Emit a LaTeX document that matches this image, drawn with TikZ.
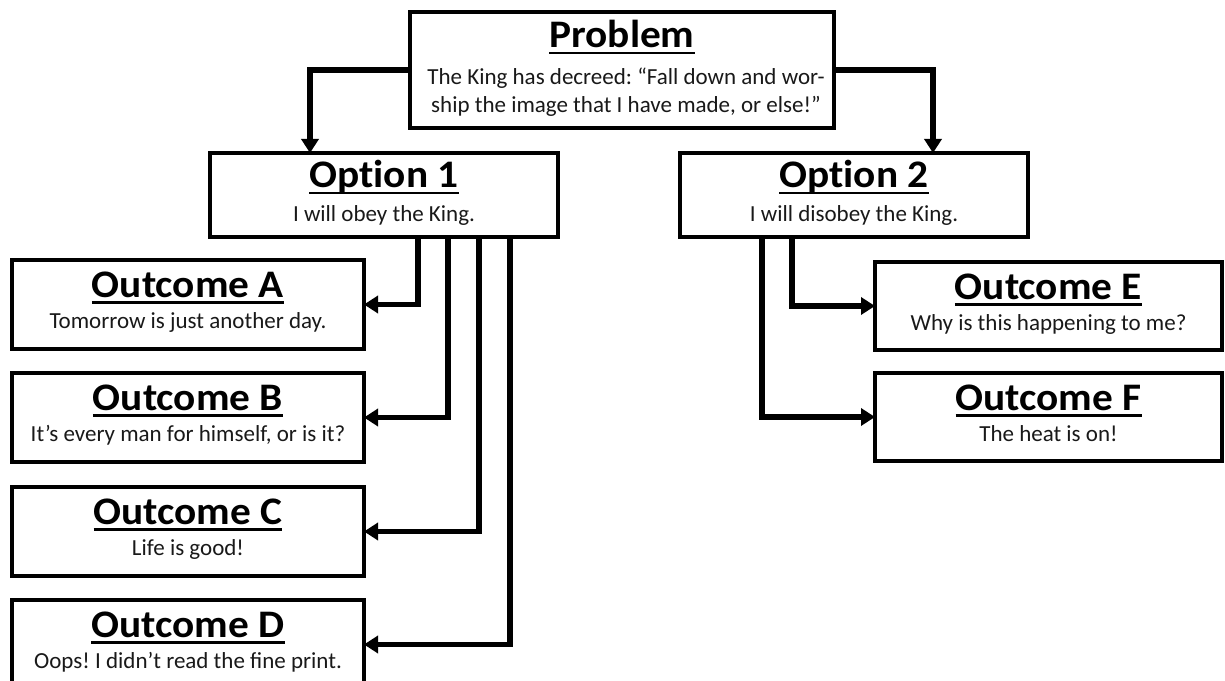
\documentclass[tikz,border=0pt]{standalone}
\usepackage{fontspec}
\setmainfont{Carlito}
\newfontfamily\titlefam[FakeStretch=1.06,Ligatures=NoCommon]{Carlito}
\usetikzlibrary{arrows.meta}
\frenchspacing
\newcommand\mytitle[1]{{\titlefam\bfseries\fontsize{39bp}{43bp}\selectfont\setbox0\hbox{#1}\rlap{\rule[-6.5bp]{\wd0}{2.8bp}}\box0}}
\tikzset{
  box/.style={draw=black, line width=3.6bp, fill=white, rectangle, inner sep=0pt, outer sep=0pt},
  ttlnode/.style={anchor=base, inner sep=0pt, text=black},
  bodynode/.style={anchor=base, inner sep=0pt, font=\fontsize{23bp}{28bp}\selectfont, text=black!90},
  conn/.style={line width=5.5bp, -{Triangle[length=14bp,width=17bp]}}
}
\begin{document}
\begin{tikzpicture}[x=1bp,y=-1bp]
\useasboundingbox (0,0) rectangle (1225,681);
\clip (0,0) rectangle (1225,681);
\fill[white] (0,0) rectangle (1225,681);

% boxes
\node[box, minimum width=424bp, minimum height=116bp] (P) at (622,70) {};
\node[box, minimum width=348bp, minimum height=84bp] (O1) at (384,195) {};
\node[box, minimum width=348bp, minimum height=84bp] (O2) at (854,195) {};
\node[box, minimum width=352bp, minimum height=89bp] (A) at (188,304.5) {};
\node[box, minimum width=352bp, minimum height=89bp] (B) at (188,417.5) {};
\node[box, minimum width=352bp, minimum height=89bp] (C) at (188,531.5) {};
\node[box, minimum width=352bp, minimum height=89bp] (D) at (188,644.5) {};
\node[box, minimum width=347bp, minimum height=88bp] (E) at (1048.5,306) {};
\node[box, minimum width=347bp, minimum height=88bp] (F) at (1048.5,417) {};

% texts
\node[ttlnode] (Pt) at ([yshift=-36bp]P.north) {\mytitle{Problem}};
\node[bodynode] (Pb1) at ([xshift=4bp,yshift=-73bp]P.north) {The King has decreed: “Fall down and wor-};
\node[bodynode] (Pb2) at ([xshift=4bp,yshift=-101bp]P.north) {ship the image that I have made, or else!”};
\node[ttlnode] (O1t) at ([yshift=-35bp]O1.north) {\mytitle{Option 1}};
\node[bodynode] (O1b) at ([yshift=-68bp]O1.north) {I will obey the King.};
\node[ttlnode] (O2t) at ([yshift=-35bp]O2.north) {\mytitle{Option 2}};
\node[bodynode] (O2b) at ([yshift=-68bp]O2.north) {I will disobey the King.};
\node[ttlnode] (At) at ([yshift=-37bp]A.north) {\mytitle{Outcome A}};
\node[bodynode] (Ab) at ([yshift=-68bp]A.north) {Tomorrow is just another day.};
\node[ttlnode] (Bt) at ([yshift=-37bp]B.north) {\mytitle{Outcome B}};
\node[bodynode] (Bb) at ([yshift=-68bp]B.north) {It’s every man for himself, or is it?};
\node[ttlnode] (Ct) at ([yshift=-37bp]C.north) {\mytitle{Outcome C}};
\node[bodynode] (Cb) at ([yshift=-68bp]C.north) {Life is good!};
\node[ttlnode] (Dt) at ([yshift=-37bp]D.north) {\mytitle{Outcome D}};
\node[bodynode] (Db) at ([yshift=-68bp]D.north) {Oops! I didn’t read the fine print.};
\node[ttlnode] (Et) at ([yshift=-37bp]E.north) {\mytitle{Outcome E}};
\node[bodynode] (Eb) at ([yshift=-68bp]E.north) {Why is this happening to me?};
\node[ttlnode] (Ft) at ([yshift=-37bp]F.north) {\mytitle{Outcome F}};
\node[bodynode] (Fb) at ([yshift=-68bp]F.north) {The heat is on!};

% connector columns
\coordinate (xl) at (310,0);
\coordinate (xr) at (933,0);
\coordinate (xa) at (418,0);
\coordinate (xb) at (448,0);
\coordinate (xc) at (479,0);
\coordinate (xd) at (510,0);
\coordinate (xe) at (792,0);
\coordinate (xf) at (762,0);

% connectors
\draw[conn] (P.west) -| (O1.north -| xl);
\draw[conn] (P.east) -| (O2.north -| xr);
\draw[conn] (O1.south -| xa) |- (A.east);
\draw[conn] (O1.south -| xb) |- (B.east);
\draw[conn] (O1.south -| xc) |- (C.east);
\draw[conn] (O1.south -| xd) |- (D.east);
\draw[conn] (O2.south -| xe) |- (E.west);
\draw[conn] (O2.south -| xf) |- (F.west);
\end{tikzpicture}
\end{document}
